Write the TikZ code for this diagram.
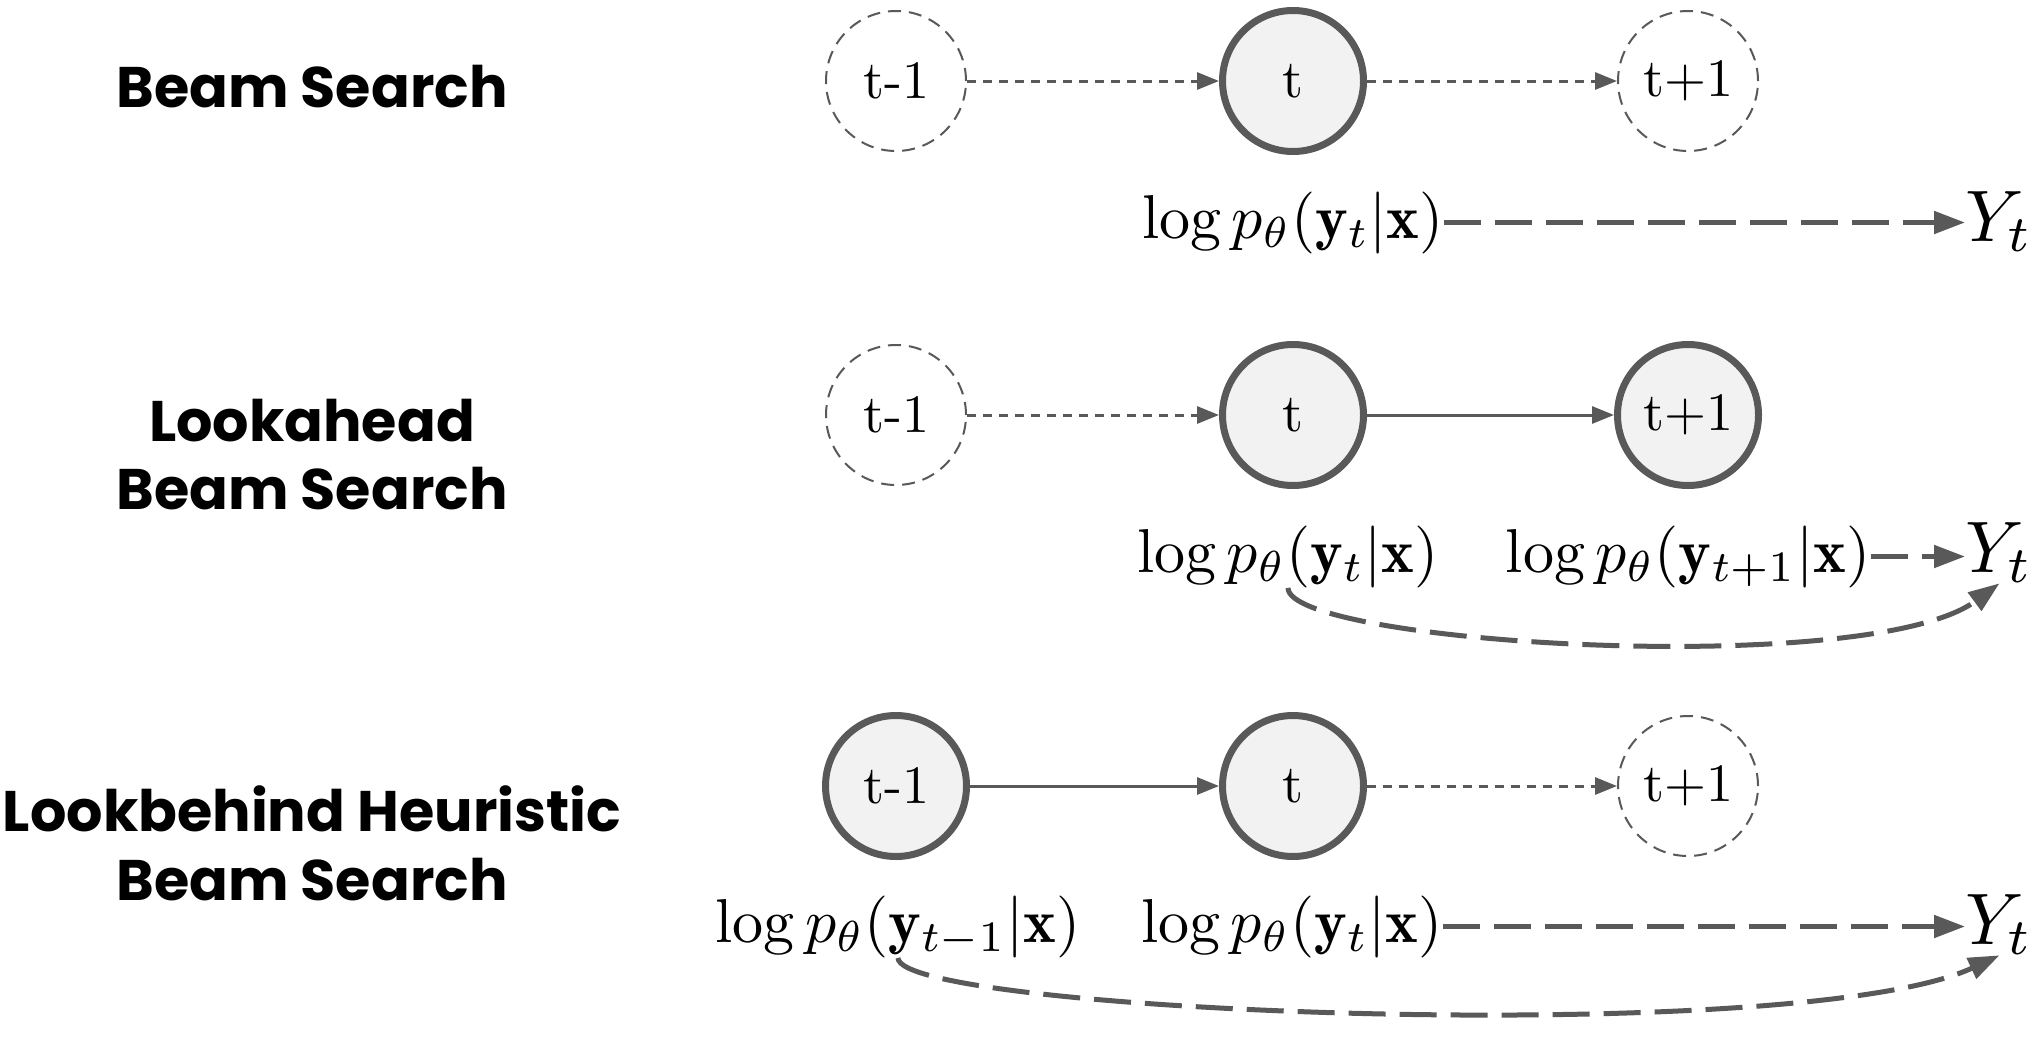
\RequirePackage{fix-cm}
\documentclass[tikz,border=0pt]{standalone}
\usepackage{amsmath}
\usepackage{fontspec}
\usetikzlibrary{arrows.meta}
\newfontfamily\popfont{Poppins}
\definecolor{lc}{HTML}{595959}
\definecolor{fc}{HTML}{F2F2F2}
\newcommand\lblmath[1]{\scalebox{3.1}{$#1$}}
\newcommand\bigY[1]{\scalebox{3.65}{$#1$}}
\newcommand\steptext[1]{\scalebox{2.7}{#1}}
\begin{document}
\begin{tikzpicture}[x=0.5pt,y=-0.5pt,
  active/.style={circle, draw=lc, fill=fc, line width=3.5pt, minimum size=70.5pt, inner sep=0pt, font=\fontsize{10}{12}\selectfont},
  ghost/.style={circle, draw=lc, dash pattern=on 6.5pt off 4pt, line width=1pt, minimum size=70pt, inner sep=0pt, font=\fontsize{10}{12}\selectfont},
  title/.style={font=\popfont\bfseries\fontsize{28.6}{34}\selectfont, anchor=base, inner sep=0pt},
  lbl/.style={font=\fontsize{10}{12}\selectfont, anchor=base, inner sep=0pt},
  ylbl/.style={font=\fontsize{10}{12}\selectfont, anchor=base west, inner sep=0pt},
  thinarrow/.style={draw=lc, line width=1.5pt, -{Triangle[length=11pt,width=8.5pt]}},
  dotarrow/.style={thinarrow, dash pattern=on 4.5pt off 3.5pt},
  bigarrow/.style={draw=lc, line width=2.5pt, dash pattern=on 18.5pt off 7pt, -{Triangle[length=15.5pt,width=11pt]}},
]
\fill[white] (0,0) rectangle (2034,1044);
\useasboundingbox (0,0) rectangle (2034,1044);

% titles
\node[title] (h1) at (312,107) {Beam Search};
\node[title] (h2a) at (312,441) {Lookahead};
\node[title] (h2b) at (312,509) {Beam Search};
\node[title] (h3a) at (312,831) {Lookbehind Heuristic};
\node[title] (h3b) at (312,900) {Beam Search};

% row 1
\node[ghost] (a1) at (896,81) {\steptext{t-1}};
\node[active] (b1) at (1293,81) {\steptext{t}};
\node[ghost] (c1) at (1688,81) {\steptext{t+1}};
\draw[dotarrow] (a1) -- (b1);
\draw[dotarrow] (b1) -- (c1);
\node[lbl] (l1) at (1293,238) {\lblmath{\log p_\theta(\mathbf{y}_t|\mathbf{x})}};
\node[ylbl] (y1) at (1965,241) {\bigY{Y_t}};
\draw[bigarrow] (l1.east) -- (l1.east -| y1.west);

% row 2
\node[ghost] (a2) at (896,415) {\steptext{t-1}};
\node[active] (b2) at (1293,415) {\steptext{t}};
\node[active] (c2) at (1688,415) {\steptext{t+1}};
\draw[dotarrow] (a2) -- (b2);
\draw[thinarrow] (b2) -- (c2);
\node[lbl] (l2a) at (1288,572) {\lblmath{\log p_\theta(\mathbf{y}_t|\mathbf{x})}};
\node[lbl] (l2b) at (1688,572) {\lblmath{\log p_\theta(\mathbf{y}_{t+1}|\mathbf{x})}};
\node[ylbl] (y2) at (1965,572) {\bigY{Y_t}};
\draw[bigarrow] (l2b.east) -- (l2b.east -| y2.west);
\draw[bigarrow] (l2a.south) .. controls +(0,56) and +(-130,96) .. (y2.south);

% row 3
\node[active] (a3) at (896,786) {\steptext{t-1}};
\node[active] (b3) at (1293,786) {\steptext{t}};
\node[ghost] (c3) at (1688,786) {\steptext{t+1}};
\draw[thinarrow] (a3) -- (b3);
\draw[dotarrow] (b3) -- (c3);
\node[lbl] (l3a) at (898,942) {\lblmath{\log p_\theta(\mathbf{y}_{t-1}|\mathbf{x})}};
\node[lbl] (l3b) at (1292,942) {\lblmath{\log p_\theta(\mathbf{y}_t|\mathbf{x})}};
\node[ylbl] (y3) at (1965,944) {\bigY{Y_t}};
\draw[bigarrow] (l3b.east) -- (l3b.east -| y3.west);
\draw[bigarrow] (l3a.south) .. controls +(0,55) and +(-200,93) .. (y3.south);
\end{tikzpicture}
\end{document}
